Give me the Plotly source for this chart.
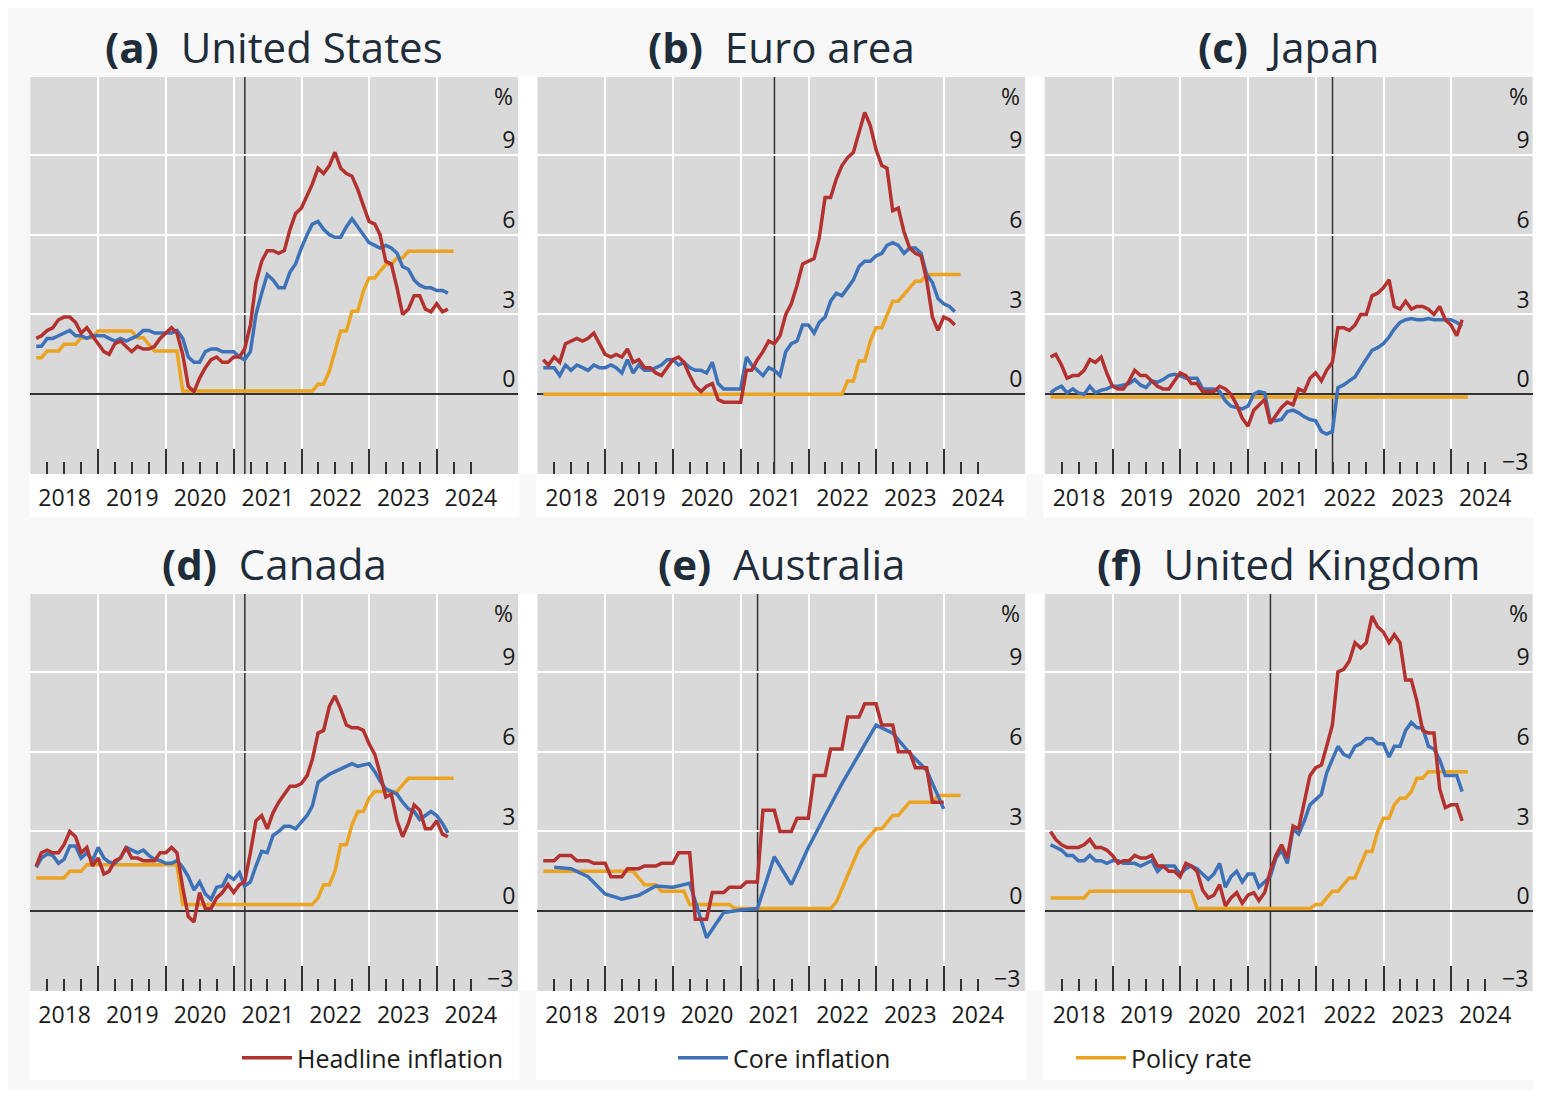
import pandas as pd
import plotly.graph_objects as go

# ── Data (monthly, plotted at month end) ─────────────────────────────────────
MONTHS = pd.date_range("2018-01-31", "2024-03-31", freq="ME")
QUARTERS = pd.date_range("2018-03-31", "2023-12-31", freq="QE")

US_HEADLINE = [2.1, 2.2, 2.4, 2.5, 2.8, 2.9, 2.9, 2.7, 2.3, 2.5, 2.2, 1.9,
               1.6, 1.5, 1.9, 2.0, 1.8, 1.6, 1.8, 1.7, 1.7, 1.8, 2.1, 2.3,
               2.5, 2.3, 1.5, 0.3, 0.1, 0.6, 1.0, 1.3, 1.4, 1.2, 1.2, 1.4,
               1.4, 1.7, 2.6, 4.2, 5.0, 5.4, 5.4, 5.3, 5.4, 6.2, 6.8, 7.0,
               7.5, 7.9, 8.5, 8.3, 8.6, 9.1, 8.5, 8.3, 8.2, 7.7, 7.1, 6.5,
               6.4, 6.0, 5.0, 4.9, 4.0, 3.0, 3.2, 3.7, 3.7, 3.2, 3.1, 3.4,
               3.1, 3.2]
US_CORE = [1.8, 1.8, 2.1, 2.1, 2.2, 2.3, 2.4, 2.2, 2.2, 2.1, 2.2, 2.2,
           2.2, 2.1, 2.0, 2.1, 2.0, 2.1, 2.2, 2.4, 2.4, 2.3, 2.3, 2.3,
           2.3, 2.4, 2.1, 1.4, 1.2, 1.2, 1.6, 1.7, 1.7, 1.6, 1.6, 1.6,
           1.4, 1.3, 1.6, 3.0, 3.8, 4.5, 4.3, 4.0, 4.0, 4.6, 4.9, 5.5,
           6.0, 6.4, 6.5, 6.2, 6.0, 5.9, 5.9, 6.3, 6.6, 6.3, 6.0, 5.7,
           5.6, 5.5, 5.6, 5.5, 5.3, 4.8, 4.7, 4.3, 4.1, 4.0, 4.0, 3.9,
           3.9, 3.8]
US_POLICY = [1.375, 1.375, 1.625, 1.625, 1.625, 1.875, 1.875, 1.875, 2.125, 2.125, 2.125, 2.375,
             2.375, 2.375, 2.375, 2.375, 2.375, 2.375, 2.125, 2.125, 1.875, 1.625, 1.625, 1.625,
             1.625, 1.625, 0.125, 0.125, 0.125, 0.125, 0.125, 0.125, 0.125, 0.125, 0.125, 0.125,
             0.125, 0.125, 0.125, 0.125, 0.125, 0.125, 0.125, 0.125, 0.125, 0.125, 0.125, 0.125,
             0.125, 0.125, 0.375, 0.375, 0.875, 1.625, 2.375, 2.375, 3.125, 3.125, 3.875, 4.375,
             4.375, 4.625, 4.875, 4.875, 5.125, 5.125, 5.375, 5.375, 5.375, 5.375, 5.375, 5.375,
             5.375, 5.375, 5.375]

EA_HEADLINE = [1.3, 1.1, 1.4, 1.2, 1.9, 2.0, 2.1, 2.0, 2.1, 2.3, 1.9, 1.5,
               1.4, 1.5, 1.4, 1.7, 1.2, 1.3, 1.0, 1.0, 0.8, 0.7, 1.0, 1.3,
               1.4, 1.2, 0.7, 0.3, 0.1, 0.3, 0.4, -0.2, -0.3, -0.3, -0.3, -0.3,
               0.9, 0.9, 1.3, 1.6, 2.0, 1.9, 2.2, 3.0, 3.4, 4.1, 4.9, 5.0,
               5.1, 5.9, 7.4, 7.4, 8.1, 8.6, 8.9, 9.1, 9.9, 10.6, 10.1, 9.2,
               8.6, 8.5, 6.9, 7.0, 6.1, 5.5, 5.3, 5.2, 4.3, 2.9, 2.4, 2.9,
               2.8, 2.6]
EA_CORE = [1.0, 1.0, 1.0, 0.7, 1.1, 0.9, 1.1, 1.0, 0.9, 1.1, 1.0, 1.0,
           1.1, 1.0, 0.8, 1.3, 0.8, 1.1, 0.9, 0.9, 1.0, 1.1, 1.3, 1.3,
           1.1, 1.2, 1.0, 0.9, 0.9, 0.8, 1.2, 0.4, 0.2, 0.2, 0.2, 0.2,
           1.4, 1.1, 0.9, 0.7, 1.0, 0.9, 0.7, 1.6, 1.9, 2.0, 2.6, 2.6,
           2.3, 2.7, 2.9, 3.5, 3.8, 3.7, 4.0, 4.3, 4.8, 5.0, 5.0, 5.2,
           5.3, 5.6, 5.7, 5.6, 5.3, 5.5, 5.5, 5.3, 4.5, 4.2, 3.6, 3.4,
           3.3, 3.1]
EA_POLICY = [0.0] * 54 + [0.5, 0.5, 1.25, 1.25, 2.0, 2.5,
                          2.5, 3.0, 3.5, 3.5, 3.75, 4.0, 4.25, 4.25, 4.5, 4.5, 4.5, 4.5,
                          4.5, 4.5, 4.5]

JP_HEADLINE = [1.4, 1.5, 1.1, 0.6, 0.7, 0.7, 0.9, 1.3, 1.2, 1.4, 0.8, 0.3,
               0.2, 0.2, 0.5, 0.9, 0.7, 0.7, 0.5, 0.3, 0.2, 0.2, 0.5, 0.8,
               0.7, 0.4, 0.4, 0.1, 0.1, 0.1, 0.3, 0.2, 0.0, -0.4, -0.9, -1.2,
               -0.6, -0.4, -0.2, -1.1, -0.8, -0.5, -0.3, -0.4, 0.2, 0.1, 0.6, 0.8,
               0.5, 0.9, 1.2, 2.5, 2.5, 2.4, 2.6, 3.0, 3.0, 3.7, 3.8, 4.0,
               4.3, 3.3, 3.2, 3.5, 3.2, 3.3, 3.3, 3.2, 3.0, 3.3, 2.8, 2.6,
               2.2, 2.8]
JP_CORE = [0.05, 0.2, 0.3, 0.05, 0.2, 0.05, 0.0, 0.3, 0.05, 0.15, 0.2, 0.3,
           0.3, 0.35, 0.4, 0.55, 0.35, 0.25, 0.5, 0.45, 0.55, 0.7, 0.75, 0.7,
           0.6, 0.6, 0.6, 0.2, 0.2, 0.2, 0.1, -0.25, -0.45, -0.5, -0.55, -0.45,
           0.0, 0.1, 0.05, -1.0, -1.0, -0.95, -0.65, -0.6, -0.7, -0.85, -0.95, -1.0,
           -1.4, -1.5, -1.4, 0.25, 0.35, 0.5, 0.65, 1.0, 1.3, 1.65, 1.75, 1.9,
           2.15, 2.45, 2.7, 2.8, 2.85, 2.8, 2.8, 2.85, 2.8, 2.8, 2.82, 2.8,
           2.7, 2.55]
JP_POLICY = [-0.1] * 75

CA_HEADLINE = [1.7, 2.2, 2.3, 2.2, 2.2, 2.5, 3.0, 2.8, 2.2, 2.4, 1.7, 2.0,
               1.4, 1.5, 1.9, 2.0, 2.4, 2.0, 2.0, 1.9, 1.9, 1.9, 2.2, 2.2,
               2.4, 2.2, 0.9, -0.2, -0.4, 0.7, 0.1, 0.1, 0.5, 0.7, 1.0, 0.7,
               1.0, 1.1, 2.2, 3.4, 3.6, 3.1, 3.7, 4.1, 4.4, 4.7, 4.7, 4.8,
               5.1, 5.7, 6.7, 6.8, 7.7, 8.1, 7.6, 7.0, 6.9, 6.9, 6.8, 6.3,
               5.9, 5.2, 4.3, 4.4, 3.4, 2.8, 3.3, 4.0, 3.8, 3.1, 3.1, 3.4,
               2.9, 2.8]
CA_CORE = [1.65, 2.0, 2.15, 2.1, 1.8, 1.95, 2.45, 2.45, 2.0, 2.2, 1.9, 2.4,
           2.0, 1.85, 1.8, 2.0, 2.4, 2.3, 2.2, 2.3, 2.1, 1.95, 1.9, 1.8,
           1.8, 1.9, 1.65, 1.3, 0.8, 1.1, 0.65, 0.45, 0.9, 0.95, 1.35, 1.2,
           1.45, 0.95, 1.1, 1.7, 2.25, 2.2, 2.85, 3.0, 3.2, 3.2, 3.1, 3.35,
           3.6, 3.95, 4.85, 5.0, 5.15, 5.25, 5.35, 5.45, 5.55, 5.45, 5.5, 5.55,
           5.25, 4.9, 4.6, 4.5, 4.4, 4.1, 3.85, 3.75, 3.45, 3.6, 3.75, 3.6,
           3.3, 2.95]
CA_POLICY = [1.25, 1.25, 1.25, 1.25, 1.25, 1.25, 1.5, 1.5, 1.5, 1.75, 1.75, 1.75,
             1.75, 1.75, 1.75, 1.75, 1.75, 1.75, 1.75, 1.75, 1.75, 1.75, 1.75, 1.75,
             1.75, 1.75, 0.25, 0.25, 0.25, 0.25, 0.25, 0.25, 0.25, 0.25, 0.25, 0.25,
             0.25, 0.25, 0.25, 0.25, 0.25, 0.25, 0.25, 0.25, 0.25, 0.25, 0.25, 0.25,
             0.25, 0.25, 0.5, 1.0, 1.0, 1.5, 2.5, 2.5, 3.25, 3.75, 3.75, 4.25,
             4.5, 4.5, 4.5, 4.5, 4.5, 4.75, 5.0, 5.0, 5.0, 5.0, 5.0, 5.0,
             5.0, 5.0, 5.0]

AU_HEADLINE = [1.9, 1.9, 1.9, 2.1, 2.1, 2.1, 1.9, 1.9, 1.9, 1.8, 1.8, 1.8,
               1.3, 1.3, 1.3, 1.6, 1.6, 1.6, 1.7, 1.7, 1.7, 1.8, 1.8, 1.8,
               2.2, 2.2, 2.2, -0.3, -0.3, -0.3, 0.7, 0.7, 0.7, 0.9, 0.9, 0.9,
               1.1, 1.1, 1.1, 3.8, 3.8, 3.8, 3.0, 3.0, 3.0, 3.5, 3.5, 3.5,
               5.1, 5.1, 5.1, 6.1, 6.1, 6.1, 7.3, 7.3, 7.3, 7.8, 7.8, 7.8,
               7.0, 7.0, 7.0, 6.0, 6.0, 6.0, 5.4, 5.4, 5.4, 4.1, 4.1, 4.1]
AU_CORE = [1.65, 1.6, 1.3, 0.65, 0.45, 0.6, 0.95, 0.9,
           1.05, -1.0, -0.05, 0.05, 0.1, 2.05, 1.0, 2.4,
           3.6, 4.8, 5.9, 7.0, 6.7, 5.95, 5.3, 3.85]
AU_POLICY = [1.5, 1.5, 1.5, 1.5, 1.5, 1.5, 1.5, 1.5, 1.5, 1.5, 1.5, 1.5,
             1.5, 1.5, 1.5, 1.5, 1.5, 1.25, 1.0, 1.0, 1.0, 0.75, 0.75, 0.75,
             0.75, 0.75, 0.25, 0.25, 0.25, 0.25, 0.25, 0.25, 0.25, 0.25, 0.1, 0.1,
             0.1, 0.1, 0.1, 0.1, 0.1, 0.1, 0.1, 0.1, 0.1, 0.1, 0.1, 0.1,
             0.1, 0.1, 0.1, 0.1, 0.35, 0.85, 1.35, 1.85, 2.35, 2.6, 2.85, 3.1,
             3.1, 3.35, 3.6, 3.6, 3.85, 4.1, 4.1, 4.1, 4.1, 4.1, 4.35, 4.35,
             4.35, 4.35, 4.35]

UK_HEADLINE = [3.0, 2.7, 2.5, 2.4, 2.4, 2.4, 2.5, 2.7, 2.4, 2.4, 2.3, 2.1,
               1.8, 1.9, 1.9, 2.1, 2.0, 2.0, 2.1, 1.7, 1.7, 1.5, 1.5, 1.3,
               1.8, 1.7, 1.5, 0.8, 0.5, 0.6, 1.0, 0.2, 0.5, 0.7, 0.3, 0.6,
               0.7, 0.4, 0.7, 1.5, 2.1, 2.5, 2.0, 3.2, 3.1, 4.2, 5.1, 5.4,
               5.5, 6.2, 7.0, 9.0, 9.1, 9.4, 10.1, 9.9, 10.1, 11.1, 10.7, 10.5,
               10.1, 10.4, 10.1, 8.7, 8.7, 7.9, 6.8, 6.7, 6.7, 4.6, 3.9, 4.0,
               4.0, 3.4]
UK_CORE = [2.5, 2.4, 2.3, 2.1, 2.1, 1.9, 1.9, 2.1, 1.9, 1.9, 1.8, 1.9,
           1.9, 1.8, 1.8, 1.8, 1.7, 1.8, 1.9, 1.5, 1.7, 1.7, 1.7, 1.4,
           1.6, 1.7, 1.6, 1.4, 1.2, 1.4, 1.8, 0.9, 1.3, 1.5, 1.1, 1.4,
           1.4, 0.9, 1.1, 1.3, 2.0, 2.3, 1.8, 3.1, 2.9, 3.4, 4.0, 4.2,
           4.4, 5.2, 5.7, 6.2, 5.9, 5.8, 6.2, 6.3, 6.5, 6.5, 6.3, 6.3,
           5.8, 6.2, 6.2, 6.8, 7.1, 6.9, 6.9, 6.2, 6.1, 5.7, 5.1, 5.1,
           5.1, 4.5]
UK_POLICY = [0.5, 0.5, 0.5, 0.5, 0.5, 0.5, 0.5, 0.75, 0.75, 0.75, 0.75, 0.75,
             0.75, 0.75, 0.75, 0.75, 0.75, 0.75, 0.75, 0.75, 0.75, 0.75, 0.75, 0.75,
             0.75, 0.75, 0.1, 0.1, 0.1, 0.1, 0.1, 0.1, 0.1, 0.1, 0.1, 0.1,
             0.1, 0.1, 0.1, 0.1, 0.1, 0.1, 0.1, 0.1, 0.1, 0.1, 0.1, 0.25,
             0.25, 0.5, 0.75, 0.75, 1.0, 1.25, 1.25, 1.75, 2.25, 2.25, 3.0, 3.5,
             3.5, 4.0, 4.25, 4.25, 4.5, 5.0, 5.0, 5.25, 5.25, 5.25, 5.25, 5.25,
             5.25, 5.25, 5.25]

PANEL_LABELS = ["(a)", "(b)", "(c)", "(d)", "(e)", "(f)"]
PANEL_NAMES = ["United States", "Euro area", "Japan", "Canada", "Australia", "United Kingdom"]
VLINE_DATES = ["2021-03-01", "2021-07-01", "2022-04-01", "2021-03-01", "2021-04-01", "2021-05-01"]
YEARS = ["2018", "2019", "2020", "2021", "2022", "2023", "2024"]
SHOW_MINUS3 = [False, False, True, True, True, True]

RED, BLUE, ORANGE = "#b3312f", "#3d72b8", "#eba322"
INK = "#1a1a1a"
FONT = "Open Sans"

panels = [
    (US_HEADLINE, US_CORE, MONTHS, US_POLICY),
    (EA_HEADLINE, EA_CORE, MONTHS, EA_POLICY),
    (JP_HEADLINE, JP_CORE, MONTHS, JP_POLICY),
    (CA_HEADLINE, CA_CORE, MONTHS, CA_POLICY),
    (AU_HEADLINE, AU_CORE, QUARTERS, AU_POLICY),
    (UK_HEADLINE, UK_CORE, MONTHS, UK_POLICY),
]

# ── Layout geometry (pixels, relative to the figure's top-left corner) ───────
W, H = 1525, 1082
COL_LEFT = [22.3, 529.3, 1036.6]
ROW_TOP = [69, 586]
PW, PH = 488, 397
LABEL_BOTTOM = [509, 1072]

year_ticks = [f"{y}-01-01" for y in YEARS]
quarter_ticks = [f"{y}-{m}-01" for y in YEARS for m in ("04", "07", "10")][:-1]

fig = go.Figure()
shapes = []
annotations = []
layout = {}

# white strips between neighbouring plots
for r in range(2):
    for c in range(2):
        shapes.append(dict(type="rect", xref="paper", yref="paper",
                           x0=(COL_LEFT[c] + PW) / W, x1=COL_LEFT[c + 1] / W,
                           y0=1 - (ROW_TOP[r] + PH) / H, y1=1 - ROW_TOP[r] / H,
                           fillcolor="white", line_width=0, layer="below"))

for i, (head, core, core_dates, policy) in enumerate(panels):
    r, c = divmod(i, 3)
    n = "" if i == 0 else str(i + 1)
    xa, ya = "x" + n, "y" + n
    left, top = COL_LEFT[c], ROW_TOP[r]

    # white box under the plot holding the year labels (and legend)
    shapes.append(dict(type="rect", xref="paper", yref="paper",
                       x0=(left - 1) / W, x1=(left + PW + 1) / W,
                       y0=1 - LABEL_BOTTOM[r] / H, y1=1 - (top + PH) / H,
                       fillcolor="white", line_width=0, layer="below"))

    for name, xs, ys, color, leg in [
        ("Policy rate", MONTHS[:len(policy)], policy, ORANGE, "legend3"),
        ("Core inflation", core_dates[:len(core)], core, BLUE, "legend2"),
        ("Headline inflation", MONTHS[:len(head)], head, RED, "legend"),
    ]:
        fig.add_trace(go.Scatter(
            x=xs, y=ys, mode="lines", name=name,
            line=dict(color=color, width=3.5),
            xaxis=xa, yaxis=ya, hoverinfo="skip",
            showlegend=(i == 0), legend=leg,
        ))

    layout["xaxis" + n] = dict(
        domain=[left / W, (left + PW) / W], anchor=ya,
        type="date", range=["2017-12-30", "2025-03-15"],
        tickmode="array", tickvals=year_ticks, ticktext=YEARS,
        ticklabelshift=34, ticklabelstandoff=8,
        ticks="inside", ticklen=25, tickwidth=2, tickcolor="#333333",
        tickfont=dict(size=23, color=INK, family=FONT),
        showgrid=True, gridcolor="white", gridwidth=2,
        minor=dict(tickvals=quarter_ticks, ticks="inside", ticklen=12,
                   tickwidth=2, tickcolor="#333333", showgrid=False),
        showline=False, zeroline=False, fixedrange=True,
    )
    layout["yaxis" + n] = dict(
        domain=[1 - (top + PH) / H, 1 - top / H], anchor=xa,
        range=[-3, 11.93], side="right",
        tickmode="array", tickvals=[0, 3, 6, 9], ticktext=["0", "3", "6", "9"],
        ticklabelposition="inside", ticklabelshift=-15,
        tickfont=dict(size=23, color=INK, family=FONT), ticks="",
        showgrid=True, gridcolor="white", gridwidth=2,
        zeroline=True, zerolinecolor="#333333", zerolinewidth=1.5,
        showline=False, fixedrange=True,
    )

    # event marker line
    shapes.append(dict(type="line", xref=xa, yref=ya + " domain",
                       x0=VLINE_DATES[i], x1=VLINE_DATES[i], y0=0, y1=1,
                       line=dict(color="#333333", width=1.5), layer="below"))

    annotations.append(dict(
        text=f"<b>{PANEL_LABELS[i]}</b>\u00a0 {PANEL_NAMES[i]}",
        xref="paper", yref="paper", x=(left + PW / 2) / W, y=1 - (top - 31) / H,
        xanchor="center", yanchor="middle", showarrow=False,
        font=dict(size=42, color="#1f2d3b", family=FONT),
    ))
    annotations.append(dict(
        text="%", xref=xa + " domain", yref=ya, x=1, y=11.2, xshift=-3,
        xanchor="right", yanchor="middle", showarrow=False,
        font=dict(size=23, color=INK, family=FONT),
    ))
    if SHOW_MINUS3[i]:
        annotations.append(dict(
            text="\u22123", xref=xa + " domain", yref=ya, x=1, y=-3,
            xshift=-3, yshift=13, xanchor="right", yanchor="middle",
            showarrow=False, font=dict(size=23, color=INK, family=FONT),
        ))

legend_style = dict(orientation="h", yanchor="middle", xanchor="left",
                    bgcolor="rgba(0,0,0,0)", itemwidth=50,
                    font=dict(size=25, color=INK, family=FONT),
                    y=1 - 1050 / H)

fig.update_layout(
    width=W, height=H,
    margin=dict(l=0, r=0, t=0, b=0),
    paper_bgcolor="#f8f8f8", plot_bgcolor="#d9d9d9",
    font=dict(family=FONT, color=INK),
    shapes=shapes, annotations=annotations,
    legend=dict(x=229 / W, **legend_style),
    legend2=dict(x=665 / W, **legend_style),
    legend3=dict(x=1063 / W, **legend_style),
    **layout,
)

fig.write_html("out.html")
